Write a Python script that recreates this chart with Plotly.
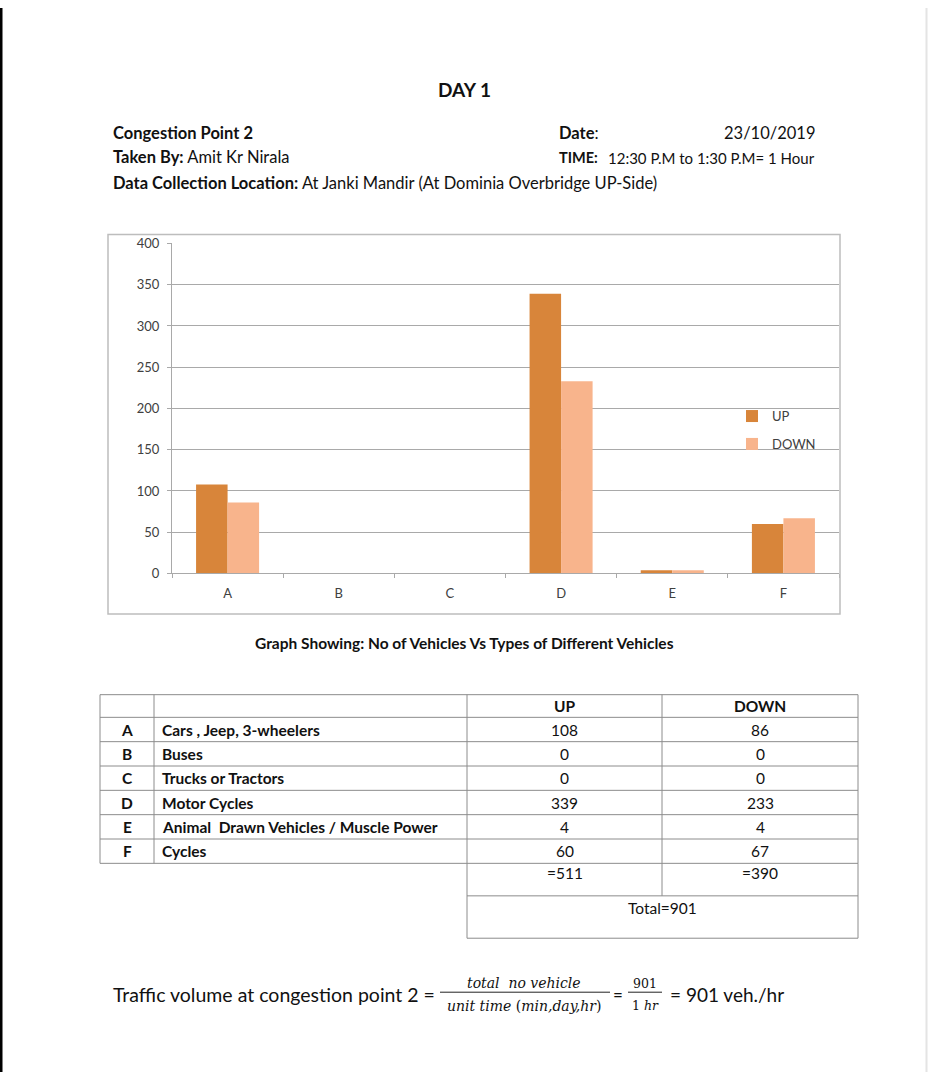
import plotly.graph_objects as go

# ---------------- data ----------------
categories = ["A", "B", "C", "D", "E", "F"]
vehicle_types = ["Cars , Jeep, 3-wheelers", "Buses", "Trucks or Tractors", "Motor Cycles",
                 "Animal  Drawn Vehicles / Muscle Power", "Cycles"]
up_counts = [108, 0, 0, 339, 4, 60]
down_counts = [86, 0, 0, 233, 4, 67]
y_ticks = [0, 50, 100, 150, 200, 250, 300, 350, 400]
column_heads = ["UP", "DOWN"]

W, H = 928, 1080
FONT = "Lato"
UP_COLOR = "#D8853A"
DOWN_COLOR = "#F8B48C"
GRID = "#A9A9A9"
LINE_C = "#8C8C8C"
TXT = "#111111"


def px(x):
    return x / W


def py(y):
    return 1 - y / H


fig = go.Figure()
fig.add_trace(go.Bar(x=categories, y=up_counts, name=column_heads[0], marker_color=UP_COLOR,
                     legendgroup="up", marker_line_width=0))
fig.add_trace(go.Bar(x=categories, y=down_counts, name=column_heads[1], marker_color=DOWN_COLOR,
                     legendgroup="down", marker_line_width=0))

annotations = []
shapes = []


def ann(text, x, y, size, xanchor="left", family=FONT, color=TXT):
    annotations.append(dict(text=text, x=px(x), y=py(y), xref="paper", yref="paper",
                            xanchor=xanchor, yanchor="middle", showarrow=False,
                            font=dict(family=family, size=size, color=color)))


def hline(x0, x1, y, color=LINE_C, width=1):
    shapes.append(dict(type="line", xref="paper", yref="paper", x0=px(x0), x1=px(x1),
                       y0=py(y), y1=py(y), line=dict(color=color, width=width)))


def vline(x, y0, y1, color=LINE_C, width=1):
    shapes.append(dict(type="line", xref="paper", yref="paper", x0=px(x), x1=px(x),
                       y0=py(y0), y1=py(y1), line=dict(color=color, width=width)))


# ---------------- header texts ----------------
ann("<b>DAY 1</b>", 464, 83, 19, "center")
ann("<b>Congestion Point 2</b>", 111, 127, 16.5)
ann("<b>Date</b>:", 557, 127, 16.5)
ann("23/10/2019", 817, 127, 16.5, "right")
ann("<b>Taken By:</b> Amit Kr Nirala", 111, 151, 16.5)
ann("<b>TIME:</b>", 557, 152, 14.5)
ann("12:30 P.M to 1:30 P.M= 1 Hour", 817, 152, 15, "right")
ann("<b>Data Collection Location:</b> At Janki Mandir (At Dominia Overbridge UP-Side)", 111, 178, 16.5)
ann("<b>Graph Showing: No of Vehicles Vs Types of Different Vehicles</b>", 464, 645, 15.5, "center")

# ---------------- table ----------------
col_x = [100, 154, 467, 662, 858]
top = 697
head_h = 23
row_h = 24.7
n = len(categories)
row_lines = [top, top + head_h] + [top + head_h + row_h * (i + 1) for i in range(n)]
bottom = row_lines[-1]
for yl in row_lines:
    hline(col_x[0], col_x[-1], yl)
for xl in col_x:
    vline(xl, top, bottom)
c_up = (col_x[2] + col_x[3]) / 2
c_down = (col_x[3] + col_x[4]) / 2
TS = 15.5
ann("<b>%s</b>" % column_heads[0], c_up, top + head_h / 2, TS, "center")
ann("<b>%s</b>" % column_heads[1], c_down, top + head_h / 2, TS, "center")
for i in range(n):
    yc = top + head_h + row_h * i + row_h / 2
    ann("<b>%s</b>" % categories[i], (col_x[0] + col_x[1]) / 2, yc, TS, "center")
    ann("<b>%s</b>" % vehicle_types[i], col_x[1] + 6, yc, TS)
    ann(str(up_counts[i]), c_up, yc, TS, "center")
    ann(str(down_counts[i]), c_down, yc, TS, "center")

total_up = sum(up_counts)
total_down = sum(down_counts)
grand = total_up + total_down
sub_bottom = bottom + 33
tot_bottom = sub_bottom + 43
hline(col_x[2], col_x[4], sub_bottom)
hline(col_x[2], col_x[4], tot_bottom)
vline(col_x[2], bottom, tot_bottom)
vline(col_x[4], bottom, tot_bottom)
vline(col_x[3], bottom, sub_bottom)
ann("=%d" % total_up, c_up, bottom + 10, TS, "center")
ann("=%d" % total_down, c_down, bottom + 10, TS, "center")
ann("Total=%d" % grand, (col_x[2] + col_x[4]) / 2, sub_bottom + 12, TS, "center")

# ---------------- formula ----------------
ann("Traffic volume at congestion point 2 =", 111, 1001, 19.5)
ann("<i>total  no vehicle</i>", 524, 990, 14, "center", "DejaVu Serif")
ann("<i>unit time</i> (<i>min,day,hr</i>)", 524, 1013, 14, "center", "DejaVu Serif")
ann("=", 618, 1001, 17, "center")
ann("%d" % grand, 645, 990, 12.5, "center", "DejaVu Serif")
ann("1 <i>hr</i>", 645, 1013, 12.5, "center", "DejaVu Serif")
ann("= %d veh./hr" % grand, 668, 1001, 19)
hline(440, 610, 999, "#222", 1)
hline(628, 662, 999, "#222", 1)

# ---------------- frame / page edges ----------------
shapes.append(dict(type="rect", xref="paper", yref="paper", x0=px(108), x1=px(840),
                   y0=py(615), y1=py(230), line=dict(color="#BDBDBD", width=1.5)))
vline(1, 0, H, "#000", 3)
vline(926.5, 0, H, "#E4E4E4", 2)

fig.update_layout(
    width=W, height=H, margin=dict(l=0, r=0, t=0, b=0),
    paper_bgcolor="white", plot_bgcolor="white",
    barmode="group", bargap=0.433, bargroupgap=0,
    font=dict(family=FONT, color="#404040"),
    xaxis=dict(domain=[px(172), px(839)], type="category", categoryorder="array",
               categoryarray=categories, showgrid=False, showline=True, linecolor=GRID,
               linewidth=1, ticks="outside", tickson="boundaries", ticklen=4, tickcolor=GRID,
               ticklabelstandoff=8,
               tickfont=dict(size=13, color="#404040"), fixedrange=True),
    yaxis=dict(domain=[py(574), py(239)], range=[0, 400], tickvals=y_ticks,
               showgrid=True, gridcolor=GRID, gridwidth=1, zeroline=False,
               showline=True, linecolor=GRID, linewidth=1, ticks="outside", ticklen=4,
               tickcolor=GRID, ticklabelstandoff=5,
               tickfont=dict(size=13, color="#404040"), fixedrange=True),
    legend=dict(x=px(732), y=py(399), xanchor="left", yanchor="top", bgcolor="rgba(0,0,0,0)",
                font=dict(size=13, color="#404040"), traceorder="grouped", tracegroupgap=8),
    annotations=annotations,
    shapes=shapes,
)

fig.write_html("out.html")
